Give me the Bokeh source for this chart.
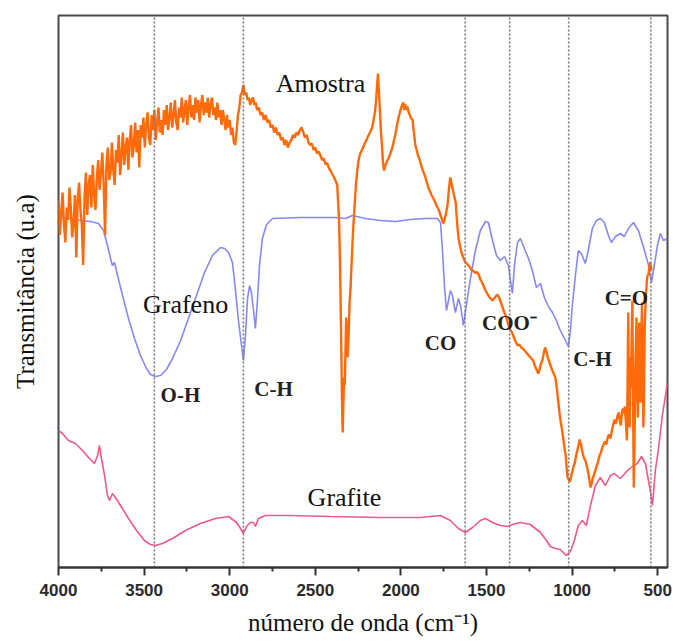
from bokeh.plotting import figure
from bokeh.models import Range1d, FixedTicker
from bokeh.core.properties import value
from bokeh.embed import file_html
from bokeh.resources import INLINE

# FTIR spectra: wavenumber (cm-1) and transmittance (arbitrary units)
amostra = [
    (4000, 73.5), (3992, 66.5), (3984, 71), (3976, 75), (3968, 68.5), (3960, 65), (3952, 72), (3944, 69.5),
    (3936, 76), (3928, 72), (3920, 66), (3912, 69), (3904, 74.5), (3896, 62), (3888, 73.5), (3880, 77),
    (3872, 71.5), (3864, 68.5), (3856, 60.5), (3848, 74), (3840, 79), (3832, 70.5), (3824, 76.5), (3816, 78.5),
    (3808, 72), (3800, 80.5), (3792, 74.5), (3784, 71.5), (3776, 78), (3768, 81.5), (3760, 75.5), (3752, 79),
    (3744, 83), (3736, 76.5), (3728, 66.5), (3720, 80.5), (3712, 84), (3704, 77.5), (3696, 79), (3688, 85),
    (3680, 79.5), (3672, 76.5), (3664, 83.5), (3656, 81), (3648, 86.5), (3640, 78.5), (3632, 82.5), (3624, 87),
    (3616, 80.5), (3608, 84), (3600, 86), (3592, 79.5), (3584, 85.5), (3576, 88.5), (3568, 82), (3560, 84.5),
    (3552, 89), (3544, 83), (3536, 87.5), (3528, 80), (3520, 88.5), (3512, 86), (3504, 90), (3496, 84),
    (3488, 88.5), (3480, 91), (3472, 86), (3464, 84.5), (3456, 90.5), (3448, 87.5), (3440, 91.5), (3432, 85.5),
    (3424, 89), (3416, 92), (3408, 87), (3400, 89.5), (3392, 86.5), (3384, 91.5), (3376, 88.5), (3368, 92.5),
    (3360, 87.5), (3352, 90), (3344, 93), (3336, 88), (3328, 90.5), (3320, 93.5), (3312, 89), (3304, 87.5),
    (3296, 92), (3288, 90), (3280, 94), (3272, 89), (3264, 91.5), (3256, 93.5), (3248, 88.5), (3240, 92),
    (3232, 94.5), (3224, 90), (3216, 92.5), (3208, 89.5), (3200, 94), (3192, 91), (3184, 93.5), (3176, 89),
    (3168, 92.5), (3160, 94.5), (3152, 90.5), (3144, 93), (3136, 91), (3128, 94), (3120, 90), (3112, 92.5),
    (3104, 94), (3096, 90.5), (3088, 92), (3080, 89.5), (3072, 93), (3064, 90), (3056, 91.5), (3048, 88.5),
    (3040, 91.5), (3032, 89.5), (3024, 87.5), (3016, 90.5), (3008, 88), (3000, 89.5), (2992, 86.5), (2984, 88),
    (2976, 85), (2968, 84.5), (2960, 87), (2952, 90.5), (2944, 92), (2936, 94.5), (2928, 95), (2920, 96.5),
    (2912, 94.5), (2904, 95), (2896, 93.5), (2888, 94), (2880, 92.5), (2872, 93.5), (2864, 94), (2856, 92.5),
    (2848, 93), (2840, 91.5), (2830, 92), (2820, 90.5), (2810, 91), (2800, 89.5), (2790, 90.5), (2780, 89),
    (2770, 89.5), (2760, 88), (2750, 88.5), (2740, 87), (2730, 88), (2720, 86.5), (2710, 87), (2700, 85.5),
    (2690, 86), (2680, 84.5), (2670, 85.5), (2660, 84), (2650, 85), (2640, 85.5), (2630, 86.5), (2620, 86),
    (2610, 87), (2600, 86.5), (2590, 87.5), (2580, 88), (2570, 87), (2560, 86), (2550, 86.5), (2540, 85),
    (2530, 84.5), (2520, 84.8), (2510, 83.5), (2500, 84), (2490, 82.8), (2480, 83.2), (2470, 82.4), (2460, 81.5),
    (2450, 81.8), (2440, 80.6), (2430, 80.9), (2420, 79.8), (2410, 79.3), (2400, 78.6), (2390, 78), (2380, 77.2),
    (2372, 76.5), (2362, 70), (2356, 61.4), (2350, 48), (2346, 38), (2342, 29), (2340, 27), (2336, 33),
    (2332, 38), (2328, 36.5), (2324, 43), (2320, 50), (2316, 47), (2312, 42), (2306, 46), (2300, 53),
    (2294, 56), (2288, 61), (2280, 67), (2272, 71.5), (2264, 76), (2256, 79), (2248, 81.4), (2238, 82.8),
    (2228, 83.5), (2218, 84.3), (2208, 85), (2198, 85.8), (2188, 86.5), (2178, 87.2), (2168, 88), (2160, 89.5),
    (2152, 91), (2146, 93), (2140, 96), (2134, 98.8), (2128, 95), (2122, 91), (2116, 87), (2110, 84),
    (2104, 80.5), (2098, 79.4), (2090, 80.5), (2080, 81.4), (2070, 82), (2060, 83), (2050, 84), (2040, 85.5),
    (2030, 87), (2020, 89), (2010, 90.5), (2000, 91.8), (1992, 92.6), (1986, 93), (1980, 91.5), (1974, 92.6),
    (1968, 91.5), (1962, 92.2), (1956, 91.2), (1948, 90.5), (1940, 89.8), (1932, 89.6), (1924, 87), (1916, 84.5),
    (1908, 83.5), (1900, 82.4), (1890, 81.5), (1880, 80.2), (1870, 79.2), (1860, 78.4), (1850, 77.2), (1840, 76),
    (1830, 75.2), (1820, 74.4), (1810, 73.8), (1800, 73), (1790, 72.2), (1780, 71.6), (1770, 70.6), (1760, 69.6),
    (1752, 68.8), (1744, 69.8), (1736, 71), (1728, 72.4), (1720, 75.5), (1712, 78), (1704, 76.8), (1696, 75.4),
    (1688, 74.2), (1680, 73), (1672, 69), (1664, 66), (1656, 64.5), (1646, 63), (1636, 62), (1626, 61.2),
    (1616, 60.8), (1606, 60.4), (1596, 60), (1586, 59.4), (1576, 59.3), (1566, 58.9), (1556, 59.1), (1546, 58.6),
    (1536, 57.6), (1526, 57), (1516, 56.2), (1506, 55.4), (1496, 54.8), (1486, 54.2), (1476, 53.8), (1466, 53.4),
    (1456, 53.8), (1446, 54.2), (1436, 54.6), (1426, 54), (1416, 53), (1406, 52), (1396, 51), (1388, 50.4),
    (1378, 49.2), (1368, 48), (1358, 47.4), (1348, 46.8), (1338, 45.8), (1328, 45), (1318, 44.4), (1308, 44.6),
    (1298, 44), (1288, 43.8), (1278, 43.4), (1268, 43), (1258, 42.6), (1248, 42.2), (1238, 41.8), (1228, 41.4),
    (1218, 40.4), (1208, 39.6), (1198, 38.8), (1190, 39.6), (1182, 40.8), (1174, 41.4), (1166, 42.8), (1158, 44),
    (1150, 43.2), (1142, 42), (1136, 41.4), (1128, 40.6), (1118, 39.6), (1108, 38.8), (1098, 38), (1090, 36),
    (1082, 33.5), (1074, 31), (1068, 29.4), (1060, 27.8), (1052, 25.8), (1045, 24), (1038, 22.5), (1032, 20),
    (1027, 18), (1020, 17.6), (1014, 17.2), (1008, 17.8), (1002, 18.8), (996, 19.6), (990, 20.4), (984, 21),
    (978, 22.2), (970, 23.4), (962, 24.6), (956, 25.6), (950, 24.8), (944, 23.8), (938, 22.8), (932, 22),
    (926, 21.6), (920, 21.2), (912, 20), (904, 18.6), (898, 17.2), (892, 16), (886, 16.8), (880, 17.8),
    (872, 18.6), (864, 19.4), (856, 20.4), (848, 21.2), (840, 22.4), (832, 23), (824, 24), (816, 24.6),
    (808, 25.2), (800, 24.6), (792, 26), (784, 26.6), (776, 25.8), (768, 27.4), (760, 28.6), (752, 29.6),
    (744, 28.8), (736, 30.2), (728, 31), (722, 29.6), (716, 28.4), (710, 30.6), (704, 31.8), (698, 30.8),
    (692, 32.2), (686, 29), (680, 25.4), (676, 38), (672, 51), (668, 30), (664, 28), (660, 42),
    (656, 36), (652, 47), (648, 53.4), (644, 33), (640, 16), (636, 24), (632, 38), (628, 44),
    (624, 50), (620, 35), (616, 30), (612, 42), (608, 49), (604, 38), (600, 33), (596, 45),
    (592, 53), (588, 41), (584, 28), (580, 36), (576, 48), (572, 52), (568, 55), (564, 57),
    (560, 58.5), (555, 58.4), (550, 60), (545, 61), (540, 60), (535, 59.5),
]

grafeno = [
    (4000, 70), (3930, 69.8), (3872, 69.4), (3813, 69.2), (3766, 68.8), (3737, 67.4), (3714, 64.4),
    (3696, 61.8), (3685, 60.4), (3673, 61), (3655, 58.4), (3626, 54.4), (3591, 49.8), (3556, 45.8),
    (3521, 42.4), (3486, 39.8), (3463, 38.6), (3434, 38.2), (3404, 38.4), (3369, 39.6), (3334, 41.8),
    (3287, 45.4), (3241, 49.8), (3194, 54.4), (3147, 59), (3101, 62.4), (3054, 64), (3030, 63.8),
    (3007, 63), (2984, 61), (2966, 55.4), (2949, 49.4), (2931, 44.4), (2920, 41.4), (2908, 46.4),
    (2896, 53.8), (2884, 56.4), (2873, 55), (2861, 51.4), (2850, 47.8), (2838, 53.4), (2826, 60.4),
    (2809, 65.8), (2785, 68.6), (2750, 69.8), (2587, 70), (2382, 70), (2324, 69.8), (2283, 70.4),
    (2207, 69.8), (2119, 69.4), (2032, 69.2), (1944, 69.6), (1856, 69.8), (1787, 69.8), (1769, 69),
    (1757, 63.4), (1746, 56.4), (1734, 51.4), (1722, 53.4), (1711, 55.4), (1699, 54.4), (1682, 51),
    (1664, 53.8), (1652, 52.4), (1635, 48.4), (1618, 52.4), (1594, 57.8), (1565, 63.4), (1536, 67.4),
    (1506, 69.2), (1489, 69), (1465, 65.4), (1442, 62.4), (1419, 61.4), (1395, 62.2), (1372, 60.4),
    (1360, 57.4), (1349, 54.8), (1337, 60.4), (1319, 65), (1302, 65.8), (1279, 63.8), (1255, 61.8),
    (1232, 59.4), (1209, 56), (1185, 56.8), (1162, 54), (1139, 52.2), (1115, 51), (1092, 49.4),
    (1069, 47.4), (1045, 45.8), (1022, 44.2), (1010, 47.4), (999, 52.4), (981, 58.4), (964, 63.4),
    (946, 62.8), (923, 60.8), (906, 63.4), (882, 67.8), (858, 69.4), (835, 69.8), (812, 69),
    (788, 66.4), (771, 65), (747, 66.2), (718, 66.8), (695, 66.2), (671, 67.8), (642, 69),
    (613, 67.4), (584, 64.2), (555, 60.6), (537, 57), (520, 60.4), (502, 64.4), (485, 66.8),
    (467, 65.4), (444, 65.8),
]

grafite = [
    (4000, 27.4), (3977, 26.8), (3942, 25.4), (3901, 24.8), (3860, 23.4), (3825, 22), (3790, 20.8),
    (3772, 22.4), (3761, 24.4), (3749, 21.8), (3731, 18.4), (3714, 14.4), (3702, 13.4), (3685, 14.8),
    (3667, 14), (3638, 12.4), (3591, 9.8), (3544, 7.4), (3498, 5.4), (3463, 4.6), (3434, 4.4),
    (3393, 4.8), (3334, 5.8), (3258, 7.4), (3171, 8.8), (3083, 9.8), (3007, 10.2), (2960, 9),
    (2937, 7.8), (2920, 6.8), (2902, 8.2), (2879, 9), (2861, 9), (2850, 8.2), (2832, 9.8),
    (2791, 10.4), (2645, 10.4), (2411, 10.2), (2119, 10), (1886, 10), (1769, 10.4), (1711, 9.4),
    (1664, 7.8), (1623, 7), (1582, 8), (1536, 9.4), (1506, 9.8), (1465, 9), (1419, 8.4),
    (1378, 8.2), (1349, 8.6), (1302, 9), (1244, 8.6), (1185, 7), (1150, 5.4), (1127, 4.2),
    (1098, 3.8), (1069, 3.6), (1034, 2.4), (1010, 3.2), (987, 5.4), (964, 8.4), (940, 9.4),
    (917, 8.4), (893, 12.4), (864, 16.4), (835, 18), (806, 16.4), (776, 18.4), (753, 18.8),
    (718, 17.8), (677, 19.4), (642, 20.4), (619, 20.8), (595, 22.2), (572, 20.8), (549, 16.4),
    (531, 12.4), (514, 19.4), (497, 23.4), (473, 30.4), (444, 36.8),
]

# assigned absorption bands (dashed guides)
band_wn = [3440, 2920, 1625, 1365, 1020, 540]

series_names = ["Amostra", "Grafeno", "Grafite"]
series_label_wn = [2470, 3258, 2330]
series_label_t = [96.8, 52.6, 14.0]

band_names = ["O-H", "C-H", "CO", "COO\u207b", "C-H", "C=O"]
band_label_wn = [3288, 2744, 1769, 1366, 881, 683]
band_label_t = [34.6, 35.8, 45.0, 49.0, 41.8, 54.0]

x_ticks = [4000, 3500, 3000, 2500, 2000, 1500, 1000, 500]
x_minor = [3750, 3250, 2750, 2250, 1750, 1250, 750]


def split(pairs):
    return [w for w, _ in pairs], [t for _, t in pairs]


p = figure(width=677, height=642, output_backend="svg", toolbar_location=None,
           x_range=Range1d(4000, 443), y_range=Range1d(0, 110.4),
           min_border_left=58, min_border_right=10, min_border_top=15, min_border_bottom=75)
p.background_fill_color = "white"
p.border_fill_color = "white"
p.xgrid.visible = False
p.ygrid.visible = False
p.outline_line_color = "#4a4a4a"
p.outline_line_width = 2

xa = p.xaxis[0]
xa.ticker = FixedTicker(ticks=x_ticks, minor_ticks=x_minor)
xa.axis_line_color = "#333333"
xa.axis_line_width = 2
xa.major_tick_line_color = "#333333"
xa.major_tick_line_width = 2
xa.major_tick_out = 8
xa.major_tick_in = 0
xa.minor_tick_line_color = "#333333"
xa.minor_tick_line_width = 2
xa.minor_tick_out = 4
xa.minor_tick_in = 0
xa.major_label_text_font = "Liberation Sans"
xa.major_label_text_font_size = "17px"
xa.major_label_text_font_style = "bold"
xa.major_label_text_color = "#2a2a2a"
xa.major_label_standoff = 8
xa.axis_label = "número de onda (cm\u207b\u00b9)"
xa.axis_label_text_font = "Liberation Serif"
xa.axis_label_text_font_size = "25px"
xa.axis_label_text_font_style = "normal"
xa.axis_label_text_color = "#111111"
xa.axis_label_standoff = 10

ya = p.yaxis[0]
ya.ticker = FixedTicker(ticks=[])
ya.axis_line_color = None
ya.major_tick_out = 0
ya.minor_tick_out = 0
ya.major_label_standoff = 0
ya.axis_label = "Transmitância (u.a)"
ya.axis_label_text_font = "Liberation Serif"
ya.axis_label_text_font_size = "25px"
ya.axis_label_text_font_style = "normal"
ya.axis_label_text_color = "#111111"
ya.axis_label_standoff = 20

gx, gy = split(grafite)
p.line(gx, gy, line_color="#ec5b85", line_width=1.6)

bx, by = split(grafeno)
p.line(bx, by, line_color="#8689f0", line_width=1.6)

ax, ay = split(amostra)
p.line(ax, ay, line_color="#ff6a0a", line_width=2.4)

p.segment(x0=band_wn, y0=[0] * len(band_wn), x1=band_wn, y1=[110.4] * len(band_wn),
          line_color="#7a7a7a", line_width=1.6, line_dash="2 2")

p.text(x=series_label_wn, y=series_label_t, text=series_names,
       text_font=value("Liberation Serif"), text_font_size="26px",
       text_color="#111111", text_align="center", text_baseline="middle")
p.text(x=band_label_wn, y=band_label_t, text=band_names,
       text_font=value("Liberation Serif"), text_font_size="21px", text_font_style="bold",
       text_color="#222222", text_align="center", text_baseline="middle")

with open("out.html", "w") as f:
    f.write(file_html(p, INLINE))
